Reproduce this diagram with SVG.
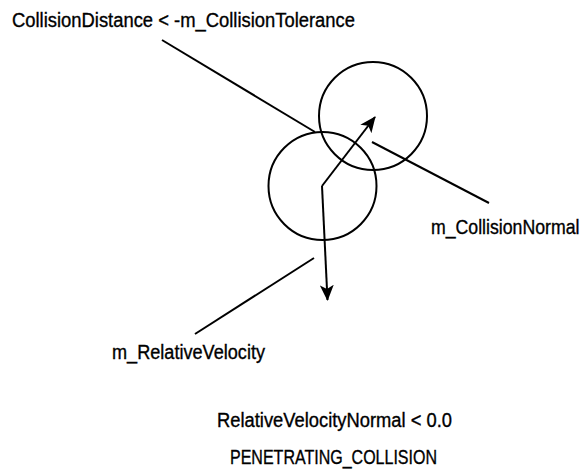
<svg xmlns="http://www.w3.org/2000/svg" width="587" height="470" viewBox="0 0 587 470">
<style>
.c{fill:none;stroke:#000;stroke-width:2}
.l{fill:none;stroke:#000;stroke-width:2}
text{font-family:"Liberation Sans",Arial,sans-serif;font-size:20px;fill:#000;stroke:#000;stroke-width:0.35}
</style>
<defs>
<marker id="ah" viewBox="0 0 16 14" refX="15" refY="7" markerWidth="16" markerHeight="14" markerUnits="userSpaceOnUse" orient="auto">
<path d="M0,0 L16,7 L0,14 L4,7 Z" fill="#000"/>
</marker>
</defs>
<rect width="587" height="470" fill="#fff"/>
<g id="circleA"><circle class="c" cx="373" cy="116" r="54"/></g>
<g id="circleB"><circle class="c" cx="322.5" cy="186" r="54"/></g>
<g id="connectors">
<line class="l" x1="162" y1="40" x2="315" y2="132"/>
<line class="l" x1="322" y1="186" x2="375" y2="117" marker-end="url(#ah)"/>
<line class="l" x1="322" y1="186" x2="327.5" y2="300" marker-end="url(#ah)"/>
<line class="l" x1="372" y1="142" x2="489" y2="203"/>
<line class="l" x1="314" y1="258" x2="195" y2="334"/>
</g>
<g id="labels">
<text x="12" y="27" textLength="343" lengthAdjust="spacingAndGlyphs">CollisionDistance &lt; -m_CollisionTolerance</text>
<text transform="translate(431,234) scale(0.885,1)" x="0" y="0">m_CollisionNormal</text>
<text x="112" y="359" textLength="153" lengthAdjust="spacingAndGlyphs">m_RelativeVelocity</text>
<text x="217" y="427" textLength="235" lengthAdjust="spacingAndGlyphs">RelativeVelocityNormal &lt; 0.0</text>
<text x="230" y="464" textLength="207" lengthAdjust="spacingAndGlyphs">PENETRATING_COLLISION</text>
</g>
</svg>
